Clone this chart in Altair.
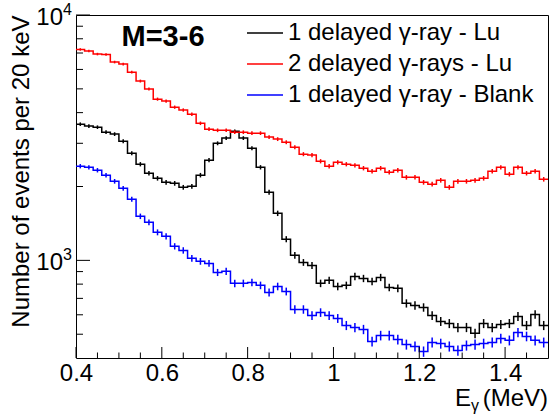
import altair as alt
import pandas as pd

# ---------------- data ----------------
E_LO = 0.4
E_HI = 1.5
BIN = 0.02  # 20 keV bins

series_names = ["1 delayed γ-ray - Lu", "2 delayed γ-rays - Lu", "1 delayed γ-ray - Blank"]
series_colors = ["#000000", "#ff0000", "#0000ff"]

black_counts = [3590, 3525, 3490, 3330, 3270, 3060, 2735, 2465, 2265, 2160,
                2080, 2060, 1985, 2005, 2225, 2560, 3000, 3150, 3360, 3150,
                2865, 2395, 1895, 1555, 1220, 1048, 981, 954, 806, 829,
                783, 791, 860, 844, 821, 852, 776, 769, 668, 655,
                643, 596, 564, 553, 533, 533, 504, 553, 533, 548,
                553, 591, 543, 602, 543]

red_counts = [7240, 7130, 6930, 6900, 6430, 6310, 5850, 5380, 4990, 4540,
              4460, 4210, 4100, 3940, 3620, 3425, 3390, 3390, 3330, 3330,
              3300, 3300, 3180, 3120, 3030, 2890, 2710, 2685, 2535, 2420,
              2510, 2465, 2440, 2375, 2310, 2375, 2285, 2330, 2180, 2180,
              2080, 2045, 2120, 1985, 2100, 2100, 2120, 2160, 2310, 2395,
              2245, 2395, 2265, 2310, 2140]

blue_counts = [2420, 2395, 2330, 2225, 2100, 1967, 1774, 1512, 1429, 1301,
               1253, 1141, 1098, 1019, 991, 972, 893, 902, 806, 806,
               813, 791, 740, 783, 747, 631, 631, 596, 613, 596,
               580, 543, 533, 523, 467, 494, 494, 476, 454, 446,
               425, 463, 458, 446, 429, 450, 454, 458, 463, 480,
               472, 508, 490, 472, 463]

x_major = [0.4, 0.6, 0.8, 1.0, 1.2, 1.4]
x_minor = [0.45, 0.5, 0.55, 0.65, 0.7, 0.75, 0.85, 0.9, 0.95,
           1.05, 1.1, 1.15, 1.25, 1.3, 1.35, 1.45]
y_major = [1000, 10000]
y_minor = [500, 600, 700, 800, 900, 2000, 3000, 4000, 5000, 6000, 7000, 8000, 9000]
y_exp = ["3", "4"]

tag_text = "M=3-6"
y_title = "Number of events per 20 keV"

# ---------------- build tables ----------------
hist_rows, err_rows = [], []
for name, counts in zip(series_names, [black_counts, red_counts, blue_counts]):
    n = len(counts)
    for i, c in enumerate(counts):
        hist_rows.append({"series": name, "e": round(E_LO + i * BIN, 4), "n": c, "k": i})
        err_rows.append({"series": name, "e": round(E_LO + (i + 0.5) * BIN, 4),
                         "lo": c - c ** 0.5, "hi": c + c ** 0.5})
    hist_rows.append({"series": name, "e": E_HI, "n": counts[-1], "k": n})
hist_df = pd.DataFrame(hist_rows)
err_df = pd.DataFrame(err_rows)

FONT = "Liberation Sans"
FS = 24
W, H = 472, 343

xscale = alt.Scale(domain=[E_LO, E_HI], nice=False, zero=False)
yscale = alt.Scale(type="log", domain=[400, 10000], nice=False)

xaxis = alt.Axis(values=x_major, labelExpr="datum.value == 1 ? '1' : format(datum.value, '.1f')",
                 ticks=False, domain=False, grid=False, labelFont=FONT, labelFontSize=FS,
                 labelColor="black", labelPadding=3, labelFlush=False, title=None)
yaxis = alt.Axis(labels=False, ticks=False, domain=False, grid=False, values=y_major,
                 title=y_title, titleFont=FONT, titleFontSize=FS, titleFontWeight="normal",
                 titleColor="black", titleX=-55, titleY=0, titleAngle=270,
                 titleAlign="right", titleBaseline="middle")


def X(field):
    return alt.X(field, type="quantitative", scale=xscale, axis=xaxis)


def Y(field):
    return alt.Y(field, type="quantitative", scale=yscale, axis=yaxis)


color = alt.Color("series:N", scale=alt.Scale(domain=series_names, range=series_colors), legend=None)

hist = alt.Chart(hist_df).mark_line(interpolate="step-after", strokeWidth=1.5).encode(
    x=X("e"), y=Y("n"), color=color, detail="series:N", order="k:Q")

err = alt.Chart(err_df).mark_rule(strokeWidth=1.5).encode(
    x=X("e"), y=Y("lo"), y2="hi:Q", color=color)

xmaj = alt.Chart(pd.DataFrame({"e": x_major})).mark_rule(color="black", strokeWidth=1).encode(
    x=X("e"), y=alt.value(H), y2=alt.value(H - 11))
xmin = alt.Chart(pd.DataFrame({"e": x_minor})).mark_rule(color="black", strokeWidth=1).encode(
    x=X("e"), y=alt.value(H), y2=alt.value(H - 5.5))
ymaj = alt.Chart(pd.DataFrame({"n": y_major})).mark_rule(color="black", strokeWidth=1).encode(
    y=Y("n"), x=alt.value(0), x2=alt.value(14))
ymin = alt.Chart(pd.DataFrame({"n": y_minor})).mark_rule(color="black", strokeWidth=1).encode(
    y=Y("n"), x=alt.value(0), x2=alt.value(7))

ylab_df = pd.DataFrame({"n": y_major, "base": ["10", "10"], "exp": y_exp})
ylab = alt.Chart(ylab_df).mark_text(align="right", baseline="middle", font=FONT, fontSize=FS,
                                    dy=3, color="black").encode(
    y=Y("n"), x=alt.value(-13), text="base:N")
ysup = alt.Chart(ylab_df).mark_text(align="left", baseline="middle", font=FONT, fontSize=16,
                                    dy=-5, color="black").encode(
    y=Y("n"), x=alt.value(-13), text="exp:N")

layers = [hist, err, xmaj, xmin, ymaj, ymin, ylab, ysup]

# legend
for i, (name, col) in enumerate(zip(series_names, series_colors)):
    ypix = 18 + 31 * i
    ldf = pd.DataFrame({"s": [name]})
    layers.append(alt.Chart(ldf).mark_rule(color=col, strokeWidth=1.5).encode(
        x=alt.value(171), x2=alt.value(207), y=alt.value(ypix)))
    layers.append(alt.Chart(ldf).mark_text(align="left", baseline="middle", font=FONT,
                                           fontSize=FS, color="black").encode(
        x=alt.value(212), y=alt.value(ypix), text="s:N"))

# M=3-6 tag
layers.append(alt.Chart(pd.DataFrame({"t": [tag_text]})).mark_text(
    align="center", baseline="middle", font=FONT, fontSize=29, fontWeight="bold", color="black").encode(
    x=alt.value(87), y=alt.value(22), text="t:N"))

# x title: E_gamma (MeV)
layers.append(alt.Chart(pd.DataFrame({"t": ["E"]})).mark_text(
    align="right", baseline="alphabetic", font=FONT, fontSize=FS, color="black").encode(
    x=alt.value(395), y=alt.value(391), text="t:N"))
layers.append(alt.Chart(pd.DataFrame({"t": ["γ"]})).mark_text(
    align="left", baseline="alphabetic", font=FONT, fontSize=16, color="black").encode(
    x=alt.value(395), y=alt.value(396), text="t:N"))
layers.append(alt.Chart(pd.DataFrame({"t": ["(MeV)"]})).mark_text(
    align="right", baseline="alphabetic", font=FONT, fontSize=FS, color="black").encode(
    x=alt.value(W), y=alt.value(391), text="t:N"))

chart = alt.layer(*layers).properties(
    width=W, height=H,
    padding={"left": 76, "top": 15, "right": 2, "bottom": 57},
    autosize=alt.AutoSizeParams(type="none"),
    background="white",
).configure_view(stroke="black", strokeWidth=1)

chart.save("out.html", embed_options={"renderer": "svg", "actions": False})
